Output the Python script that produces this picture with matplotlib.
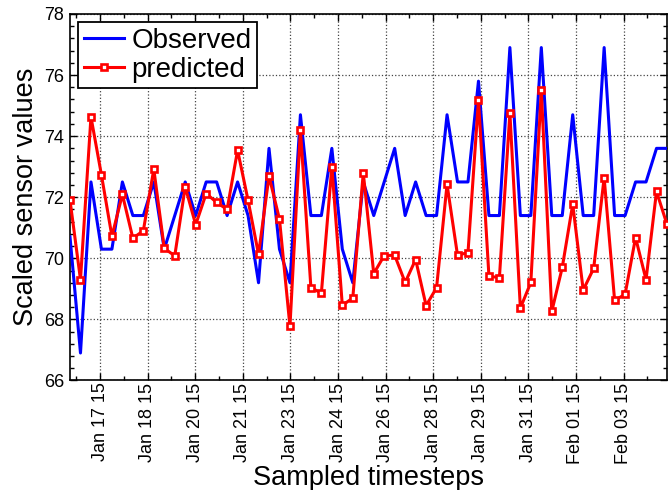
import matplotlib
matplotlib.use("Agg")
import matplotlib.pyplot as plt
import numpy as np
from matplotlib.ticker import FixedLocator, MultipleLocator

plt.rcParams['font.family'] = ['Liberation Sans', 'DejaVu Sans']

observed = [70.7, 66.9, 72.5, 70.3, 70.3, 72.5, 71.4, 71.4, 72.5, 70.3,
            71.4, 72.5, 71.4, 72.5, 72.5, 71.4, 72.5, 71.4, 69.2, 73.6,
            70.3, 69.2, 74.7, 71.4, 71.4, 73.6, 70.3, 69.2, 72.5, 71.4,
            72.5, 73.6, 71.4, 72.5, 71.4, 71.4, 74.7, 72.5, 72.5, 75.8,
            71.4, 71.4, 76.9, 71.4, 71.4, 76.9, 71.4, 71.4, 74.7, 71.4,
            71.4, 76.9, 71.4, 71.4, 72.5, 72.5, 73.6, 73.6]

predicted = [71.9, 69.3, 74.63, 72.73, 70.72, 72.09, 70.66, 70.9, 72.92, 70.33,
             70.08, 72.34, 71.1, 72.12, 71.83, 71.6, 73.54, 71.9, 70.13, 72.69,
             71.28, 67.77, 74.2, 69.04, 68.86, 73.0, 68.46, 68.7, 72.8, 69.5,
             70.09, 70.1, 69.21, 69.96, 68.45, 69.04, 72.42, 70.1, 70.19, 75.18,
             69.41, 69.37, 74.76, 68.37, 69.21, 75.5, 68.26, 69.7, 71.77, 68.96,
             69.67, 72.64, 68.62, 68.82, 70.68, 69.3, 72.19, 71.11]

tick_labels = ['Jan 17 15', 'Jan 18 15', 'Jan 20 15', 'Jan 21 15', 'Jan 23 15',
               'Jan 24 15', 'Jan 26 15', 'Jan 28 15', 'Jan 29 15', 'Jan 31 15',
               'Feb 01 15', 'Feb 03 15']
tick_start = 2.87      # first tick, in sample units
tick_step = 4.544      # tick spacing, in sample units

x = np.arange(len(observed))

fig = plt.figure(figsize=(6.7, 4.9), dpi=100)
ax = fig.add_axes([0.1045, 0.2235, 0.891, 0.748])

ax.plot(x, observed, color='#0000ff', lw=2.2, label='Observed', zorder=3)
ax.plot(x, predicted, color='#ff0000', lw=2.2, marker='s', markersize=5.0,
        markerfacecolor='white', markeredgecolor='#ff0000', markeredgewidth=1.9,
        label='predicted', zorder=4)

ax.set_xlim(0, len(observed) - 1)
ax.set_ylim(66, 78)

major = tick_start + tick_step * np.arange(len(tick_labels))
ax.xaxis.set_major_locator(FixedLocator(major))
minor = np.concatenate([[tick_start - tick_step / 2], major + tick_step / 2])
ax.xaxis.set_minor_locator(FixedLocator(minor))
ax.set_xticklabels(tick_labels, rotation=90, fontsize=13)

ax.yaxis.set_major_locator(MultipleLocator(2))
ax.yaxis.set_minor_locator(MultipleLocator(0.4))
ax.tick_params(axis='y', labelsize=13, pad=4)

ax.tick_params(which='both', direction='in', top=True, right=True, width=1.0)
ax.tick_params(which='major', length=5)
ax.tick_params(which='minor', length=3)
ax.tick_params(axis='x', pad=1.5)

ax.grid(True, which='major', linestyle=':', color='#444444', linewidth=0.9)

for s in ax.spines.values():
    s.set_linewidth(1.2)

ax.set_xlabel('Sampled timesteps', fontsize=19.5, labelpad=1)
ax.set_ylabel('Scaled sensor values', fontsize=19.5, labelpad=4)

leg = ax.legend(loc='upper left', fontsize=20, fancybox=False, framealpha=1,
                edgecolor='black', borderpad=0.2, labelspacing=0.1,
                handlelength=1.45, handletextpad=0.25, borderaxespad=0.3)
leg.get_frame().set_linewidth(1.3)
for h in leg.legend_handles:
    try:
        h.set_markersize(4.0)
    except Exception:
        pass

fig.savefig('out.png', dpi=100)
